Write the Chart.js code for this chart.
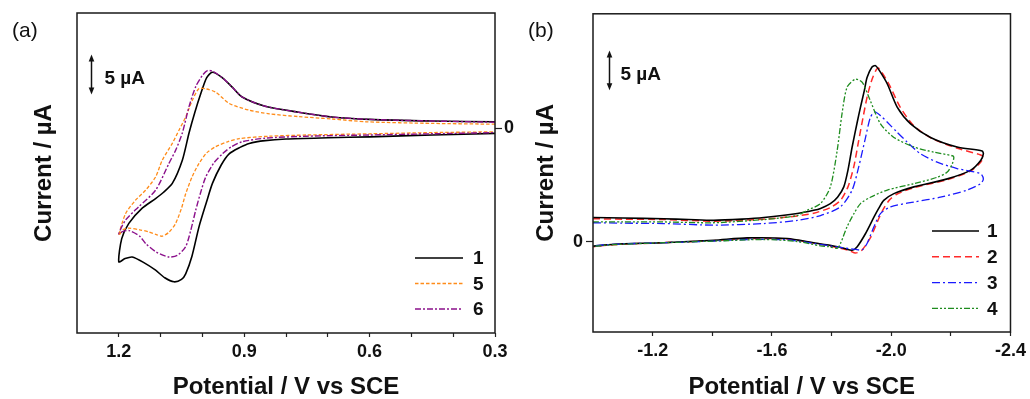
<!DOCTYPE html>
<html><head><meta charset="utf-8">
<script src="https://cdn.jsdelivr.net/npm/chart.js@4/dist/chart.umd.min.js"></script>
<style>
html,body{margin:0;padding:0;background:#fff;}
#wrap{position:relative;width:1030px;height:399px;overflow:hidden;}
.box{position:absolute;top:0;height:399px;}
</style></head><body>
<div id="wrap">
<div class="box" style="left:0;width:520px"><canvas id="ca" width="520" height="399"></canvas></div>
<div class="box" style="left:520px;width:510px"><canvas id="cb" width="510" height="399"></canvas></div>
</div>
<script>
// ---------------- Panel (a) data ----------------
const aSeries = ['1', '5', '6'];
const aTickMarks = [1.2, 1.1, 1.0, 0.9, 0.8, 0.7, 0.6, 0.5, 0.4, 0.3];
const aTickLabels = [1.2, 0.9, 0.6, 0.3];
const a1V = [0.30,0.45,0.60,0.69,0.77,0.85,0.905,0.928,0.952,0.976,0.99,1.004,1.018,1.032,1.048,1.072,1.095,1.112,1.144,1.176,1.193,1.2,
             1.185,1.168,1.14,1.112,1.09,1.068,1.05,1.04,1.025,1.008,0.99,0.976,0.955,0.936,0.91,0.888,0.85,0.80,0.70,0.60,0.45,0.30];
const a1I = [0.8,0.9,1.1,1.4,2.0,2.75,3.9,5.1,6.3,7.0,6.3,4.3,2.0,-0.6,-4.0,-6.9,-8.1,-8.8,-10.0,-11.9,-13.8,-16.7,
             -16.3,-16.1,-16.8,-17.75,-18.7,-19.2,-18.9,-18.2,-16.0,-12.3,-9.2,-6.9,-4.6,-3.2,-2.4,-1.9,-1.55,-1.35,-1.2,-1.08,-0.85,-0.65];
const a5V = [0.30,0.45,0.607,0.69,0.77,0.84,0.888,0.936,0.968,0.99,1.008,1.024,1.04,1.056,1.072,1.096,1.112,1.136,1.16,1.184,1.2,
             1.19,1.176,1.15,1.128,1.11,1.096,1.08,1.064,1.05,1.04,1.024,1.008,0.99,0.968,0.94,0.912,0.84,0.75,0.60,0.45,0.30];
const a5I = [0.5,0.6,0.8,1.15,1.45,1.8,2.25,3.1,4.5,4.9,4.96,3.5,1.4,-0.25,-1.9,-4.0,-6.1,-7.75,-9.0,-10.7,-13.4,
             -12.7,-12.5,-12.7,-12.96,-13.3,-13.5,-13.0,-11.9,-10.0,-8.2,-6.0,-4.4,-3.1,-2.3,-1.7,-1.3,-1.0,-0.85,-0.7,-0.55,-0.45];
const a6V = [0.30,0.45,0.60,0.69,0.77,0.85,0.905,0.928,0.952,0.975,0.988,1.0,1.016,1.032,1.048,1.064,1.08,1.112,1.152,1.184,1.2,
             1.19,1.175,1.15,1.136,1.11,1.08,1.06,1.04,1.028,1.016,1.004,0.992,0.972,0.952,0.93,0.905,0.85,0.75,0.60,0.45,0.30];
const a6I = [0.75,0.9,1.1,1.4,2.0,2.75,3.9,5.1,6.3,7.1,7.2,6.6,5.2,2.7,-0.6,-2.75,-4.4,-7.75,-9.8,-11.5,-13.2,
             -12.9,-12.8,-13.5,-14.4,-15.5,-16.1,-15.9,-14.8,-12.8,-10.25,-8.0,-6.1,-4.3,-3.2,-2.3,-1.7,-1.25,-1.0,-0.85,-0.7,-0.55];

// ---------------- Panel (b) data ----------------
const bSeries = ['1', '2', '3', '4'];
const bTickMarks = [-1.2, -1.4, -1.6, -1.8, -2.0, -2.2, -2.4];
const bTickLabels = [-1.2, -1.6, -2.0, -2.4];
const b1V = [-1.0,-1.1,-1.237,-1.32,-1.405,-1.5,-1.573,-1.685,-1.74,-1.763,-1.796,-1.82,-1.841,-1.855,-1.869,-1.886,-1.897,-1.91,-1.919,-1.935,-1.947,-1.96,-1.987,-2.02,-2.065,-2.132,-2.221,-2.305,-2.309,
             -2.3,-2.267,-2.188,-2.076,-2.009,-1.975,-1.958,-1.942,-1.914,-1.886,-1.869,-1.841,-1.79,-1.74,-1.651,-1.517,-1.405,-1.237,-1.07,-1.0];
const b1I = [3.05,3.0,2.9,2.8,2.7,2.85,3.05,3.55,3.96,4.2,4.8,5.6,6.9,9.0,11.9,15.0,16.9,19.0,20.6,21.9,22.1,21.5,19.8,16.9,14.8,13.1,11.9,11.4,11.05,
             10.2,9.0,7.9,6.9,6.05,5.2,4.2,3.1,1.05,-0.6,-1.05,-0.8,-0.4,-0.1,0.42,0.5,0.2,-0.1,-0.3,-0.54];
const b2V = [-1.0,-1.1,-1.237,-1.405,-1.573,-1.685,-1.74,-1.796,-1.83,-1.855,-1.875,-1.89,-1.905,-1.92,-1.935,-1.95,-1.957,-1.97,-1.995,-2.03,-2.075,-2.14,-2.225,-2.3,-2.309,
             -2.3,-2.267,-2.188,-2.076,-2.02,-1.995,-1.975,-1.958,-1.93,-1.9,-1.88,-1.86,-1.83,-1.74,-1.651,-1.517,-1.405,-1.237,-1.07,-1.0];
const b2I = [2.9,2.85,2.8,2.6,2.85,3.25,3.6,4.3,5.2,6.9,9.5,12.5,15.5,18.3,20.3,21.6,21.8,21.2,19.6,16.9,14.6,12.9,11.7,10.9,10.6,
             10.0,8.9,7.8,6.8,6.0,5.3,4.2,2.9,0.5,-1.1,-1.4,-1.1,-0.8,-0.15,0.35,0.42,0.15,-0.1,-0.35,-0.6];
const b3V = [-1.0,-1.1,-1.237,-1.405,-1.573,-1.685,-1.763,-1.83,-1.869,-1.891,-1.914,-1.93,-1.945,-1.965,-1.987,-2.02,-2.054,-2.098,-2.154,-2.221,-2.3,-2.309,
             -2.3,-2.255,-2.165,-2.076,-1.998,-1.964,-1.942,-1.919,-1.903,-1.88,-1.83,-1.74,-1.651,-1.517,-1.405,-1.237,-1.07,-1.0];
const b3I = [2.4,2.35,2.3,2.1,2.3,2.7,3.3,4.4,6.5,9.4,13.1,15.6,16.3,15.8,15.0,13.75,12.5,11.05,10.0,9.2,8.55,7.9,
             7.3,6.5,5.6,5.0,4.4,3.55,1.9,-0.2,-1.0,-0.95,-0.7,-0.2,0.25,0.3,0.1,-0.1,-0.3,-0.5];
const b4V = [-1.0,-1.1,-1.237,-1.405,-1.573,-1.685,-1.718,-1.763,-1.796,-1.819,-1.835,-1.852,-1.88,-1.903,-1.93,-1.964,-2.009,-2.076,-2.143,-2.205,-2.21,
             -2.205,-2.188,-2.154,-2.076,-1.987,-1.93,-1.897,-1.875,-1.852,-1.83,-1.819,-1.79,-1.763,-1.685,-1.573,-1.405,-1.237,-1.07,-1.0];
const b4I = [2.5,2.5,2.5,2.4,2.8,3.3,3.96,4.8,6.9,11.5,16.05,19.4,20.4,20.0,17.7,14.8,13.1,11.9,11.25,10.8,10.6,
             9.8,8.75,8.1,7.3,6.5,5.6,4.8,3.55,1.9,-0.2,-0.8,-0.6,-0.5,0.05,0.3,0.1,-0.1,-0.35,-0.55];

// ---------------- helpers ----------------
const FAM = '"Liberation Sans", Arial, Helvetica, sans-serif';
const pts = (V, I) => V.map((v, i) => ({x: v, y: I[i]}));
const near = (arr, v) => arr.some(t => Math.abs(t - v) < 1e-6);

const decor = {
  id: 'decor',
  afterDraw(chart, args, o) {
    const ctx = chart.ctx, ca = chart.chartArea;
    ctx.save();
    // frame
    ctx.strokeStyle = '#1a1a1a'; ctx.lineWidth = 1.5; ctx.setLineDash([]);
    ctx.strokeRect(ca.left, ca.top, ca.right - ca.left, ca.bottom - ca.top);
    // panel label
    ctx.fillStyle = '#111'; ctx.textBaseline = 'middle'; ctx.textAlign = 'left';
    ctx.font = '21px ' + FAM;
    ctx.fillText(o.panel, o.panelX, o.panelY);
    // scale bar (5 µA) through the y scale
    const xs = chart.scales.x, ys = chart.scales.y;
    const bx = Math.round(xs.getPixelForValue(o.bar.x)) + 0.5;
    const yTop = ys.getPixelForValue(o.bar.y1), yBot = ys.getPixelForValue(o.bar.y0);
    ctx.strokeStyle = '#111'; ctx.fillStyle = '#111'; ctx.lineWidth = 1.5;
    ctx.beginPath(); ctx.moveTo(bx, yTop + 4); ctx.lineTo(bx, yBot - 4); ctx.stroke();
    ctx.beginPath(); ctx.moveTo(bx, yTop); ctx.lineTo(bx - 2.8, yTop + 7); ctx.lineTo(bx + 2.8, yTop + 7); ctx.closePath(); ctx.fill();
    ctx.beginPath(); ctx.moveTo(bx, yBot); ctx.lineTo(bx - 2.8, yBot - 7); ctx.lineTo(bx + 2.8, yBot - 7); ctx.closePath(); ctx.fill();
    ctx.font = 'bold 19px ' + FAM;
    ctx.fillText(o.bar.text, bx + o.bar.dx, (yTop + yBot) / 2 + 4);
    // legend
    const L = o.legend;
    chart.data.datasets.forEach((ds, i) => {
      const y = L.y + i * L.dy;
      ctx.strokeStyle = ds.borderColor; ctx.lineWidth = ds.borderWidth;
      ctx.setLineDash(ds.borderDash || []);
      ctx.beginPath(); ctx.moveTo(L.x, y); ctx.lineTo(L.x + L.len, y); ctx.stroke();
      ctx.setLineDash([]);
      ctx.fillStyle = '#111'; ctx.font = 'bold 19px ' + FAM;
      ctx.fillText(ds.label, L.x + L.len + L.gap, y + 1);
    });
    ctx.restore();
  }
};

function line(label, data, color, width, dash, order) {
  return {label, data, borderColor: color, backgroundColor: color, borderWidth: width,
          borderDash: dash, showLine: true, pointRadius: 0, tension: 0.25, fill: false, order};
}

const tickFont = {family: FAM, size: 18, weight: 'bold'};
const titleFont = {family: FAM, size: 24, weight: 'bold', lineHeight: 1};

// ---------------- Chart (a) ----------------
new Chart(document.getElementById('ca'), {
  type: 'scatter',
  data: {datasets: [
    line(aSeries[0], pts(a1V, a1I), '#000000', 1.6, [], 3),
    line(aSeries[1], pts(a5V, a5I), '#ff8c1a', 1.3, [3.5, 2], 2),
    line(aSeries[2], pts(a6V, a6I), '#8b108b', 1.4, [6, 2, 2, 2], 1)
  ]},
  options: {
    responsive: false, animation: false, events: [],
    layout: {padding: {top: 13, left: 0, right: 0, bottom: 0}},
    plugins: {legend: {display: false}, tooltip: {enabled: false},
      decor: {panel: '(a)', panelX: 12, panelY: 31,
        bar: {x: 1.2665, y0: 4.2, y1: 9.2, dx: 13, text: '5 µA'},
        legend: {x: 415, y: 258, dy: 25.5, len: 48, gap: 10}}},
    scales: {
      x: {type: 'linear', min: 0.3, max: 1.3, reverse: true,
        afterBuildTicks: s => { s.ticks = aTickMarks.map(v => ({value: v})); },
        afterFit: s => { s.height = 66; },
        ticks: {autoSkip: false, maxRotation: 0, padding: 4, color: '#111', font: tickFont,
          callback: v => near(aTickLabels, v) ? v.toFixed(1) : ''},
        grid: {display: true, drawOnChartArea: false, drawTicks: true, tickLength: 4, color: '#222', tickWidth: 1.2},
        border: {display: false},
        title: {display: true, text: 'Potential / V vs SCE', color: '#111', font: titleFont, padding: {top: 0, bottom: 0}}},
      y: {type: 'linear', position: 'left', min: -25.6, max: 14.4,
        afterFit: s => { s.width = 77; },
        ticks: {display: false}, grid: {display: false}, border: {display: false},
        title: {display: true, text: 'Current / µA', color: '#111', font: titleFont, padding: {top: 32, bottom: 0}}},
      y2: {type: 'linear', position: 'right', min: -25.6, max: 14.4,
        afterBuildTicks: s => { s.ticks = [{value: 0}]; },
        afterFit: s => { s.width = 25; },
        ticks: {padding: 2, color: '#111', font: tickFont},
        grid: {display: true, drawOnChartArea: false, drawTicks: true, tickLength: 7, color: '#222', tickWidth: 1.2},
        border: {display: false}}
    }
  },
  plugins: [decor]
});

// ---------------- Chart (b) ----------------
new Chart(document.getElementById('cb'), {
  type: 'scatter',
  data: {datasets: [
    line(bSeries[0], pts(b1V, b1I), '#000000', 1.6, [], 2),
    line(bSeries[1], pts(b2V, b2I), '#ff2a2a', 1.5, [7, 4], 3),
    line(bSeries[2], pts(b3V, b3I), '#1a1aff', 1.3, [8, 3, 2, 3], 1),
    line(bSeries[3], pts(b4V, b4I), '#1e8c1e', 1.3, [6, 2, 2, 2, 2, 2], 0)
  ]},
  options: {
    responsive: false, animation: false, events: [],
    layout: {padding: {top: 13, left: 0, right: 19, bottom: 0}},
    plugins: {legend: {display: false}, tooltip: {enabled: false},
      decor: {panel: '(b)', panelX: 8, panelY: 31,
        bar: {x: -1.0547, y0: 19.0, y1: 24.0, dx: 11, text: '5 µA'},
        legend: {x: 412, y: 231, dy: 25.8, len: 47, gap: 8}}},
    scales: {
      x: {type: 'linear', min: -2.4, max: -1.0, reverse: true,
        afterBuildTicks: s => { s.ticks = bTickMarks.map(v => ({value: v})); },
        afterFit: s => { s.height = 67; },
        ticks: {autoSkip: false, maxRotation: 0, padding: 4, color: '#111', font: tickFont,
          callback: v => near(bTickLabels, v) ? v.toFixed(1) : ''},
        grid: {display: true, drawOnChartArea: false, drawTicks: true, tickLength: 4, color: '#222', tickWidth: 1.2},
        border: {display: false},
        title: {display: true, text: 'Potential / V vs SCE', color: '#111', font: titleFont, padding: {top: 0, bottom: 0}}},
      y: {type: 'linear', position: 'left', min: -11.3, max: 28.6,
        afterBuildTicks: s => { s.ticks = [{value: 0}]; },
        afterFit: s => { s.width = 73; },
        ticks: {padding: 3, color: '#111', font: tickFont},
        grid: {display: true, drawOnChartArea: false, drawTicks: true, tickLength: 7, color: '#222', tickWidth: 1.2},
        border: {display: false},
        title: {display: true, text: 'Current / µA', color: '#111', font: titleFont, padding: {top: 14, bottom: 0}}}
    }
  },
  plugins: [decor]
});
</script>
</body></html>
